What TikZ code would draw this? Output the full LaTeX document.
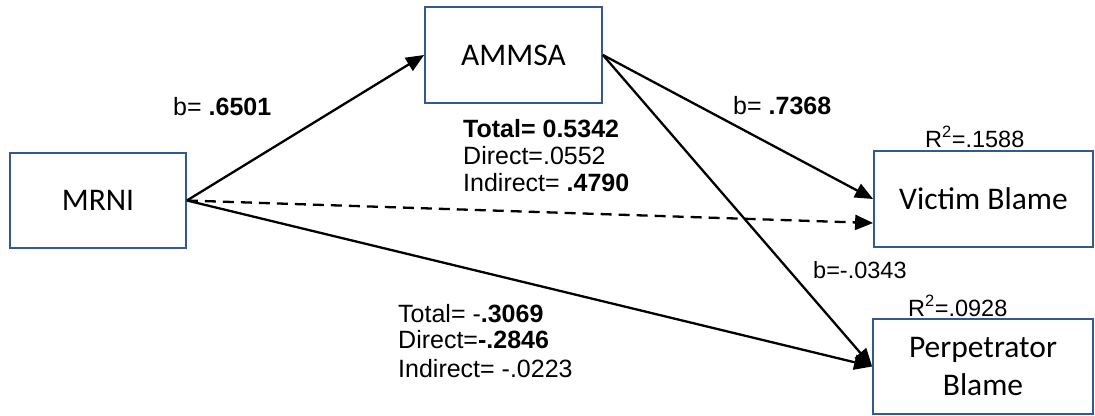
\documentclass[tikz,border=0pt]{standalone}
\usepackage{fontspec}
\setmainfont{Liberation Sans}
\newfontfamily\boxfont{Carlito}
\newfontfamily\lblfont{Liberation Sans}
\usetikzlibrary{arrows.meta}
\definecolor{boxblue}{RGB}{52,87,150}
\tikzset{
  varbox/.style={draw=boxblue, line width=1.8pt, minimum width=#1, inner sep=0pt, align=center, font=\boxfont\fontsize{31.5}{38}\selectfont},
  path/.style={line width=2.3pt, -{Triangle[length=18pt,width=15pt]}},
  lbl/.style={anchor=base west, inner sep=0pt, font=\lblfont\fontsize{25}{27}\selectfont},
  rlbl/.style={anchor=base west, inner sep=0pt, font=\lblfont\fontsize{23.5}{27}\selectfont}
}
\begin{document}
\begin{tikzpicture}[x=1pt,y=-1pt]
\useasboundingbox (0,0) rectangle (1095,415);
\node[varbox=176pt, minimum height=95pt] (mrni) at (98,200.5) {MRNI};
\node[varbox=177pt, minimum height=96pt] (ammsa) at (513.5,55) {AMMSA};
\node[varbox=219pt, minimum height=96pt] (victim) at (983.5,199) {Victim Blame};
\node[varbox=220pt, minimum height=95pt] (perp) at (983,366.5) {Perpetrator\\Blame};
\coordinate (vd) at ([yshift=-24pt]victim.west);
\draw[path] (mrni.east) -- (ammsa.west);
\draw[path] (ammsa.east) -- (victim.west);
\draw[path] (ammsa.east) -- (perp.west);
\draw[path] (mrni.east) -- (perp.west);
\draw[path, dash pattern=on 11pt off 7pt] (mrni.east) -- (vd);
\node[lbl] (l1) at (173,115) {b= \textbf{.6501}};
\node[lbl] (l2) at (463,137) {\textbf{Total= 0.5342}};
\node[lbl] (l3) at (463,164) {Direct=.0552};
\node[lbl] (l4) at (463,191) {Indirect= \textbf{.4790}};
\node[lbl] (l5) at (733,114) {b= \textbf{.7368}};
\node[rlbl] (l6) at (925,147) {R\textsuperscript{2}=.1588};
\node[rlbl] (l7) at (813,278) {b=-.0343};
\node[rlbl] (l8) at (908,316) {R\textsuperscript{2}=.0928};
\node[lbl] (l9) at (398,322) {Total= -\textbf{.3069}};
\node[lbl] (l10) at (398,348) {Direct=\textbf{-.2846}};
\node[lbl] (l11) at (398,377) {Indirect= -.0223};
\end{tikzpicture}
\end{document}
